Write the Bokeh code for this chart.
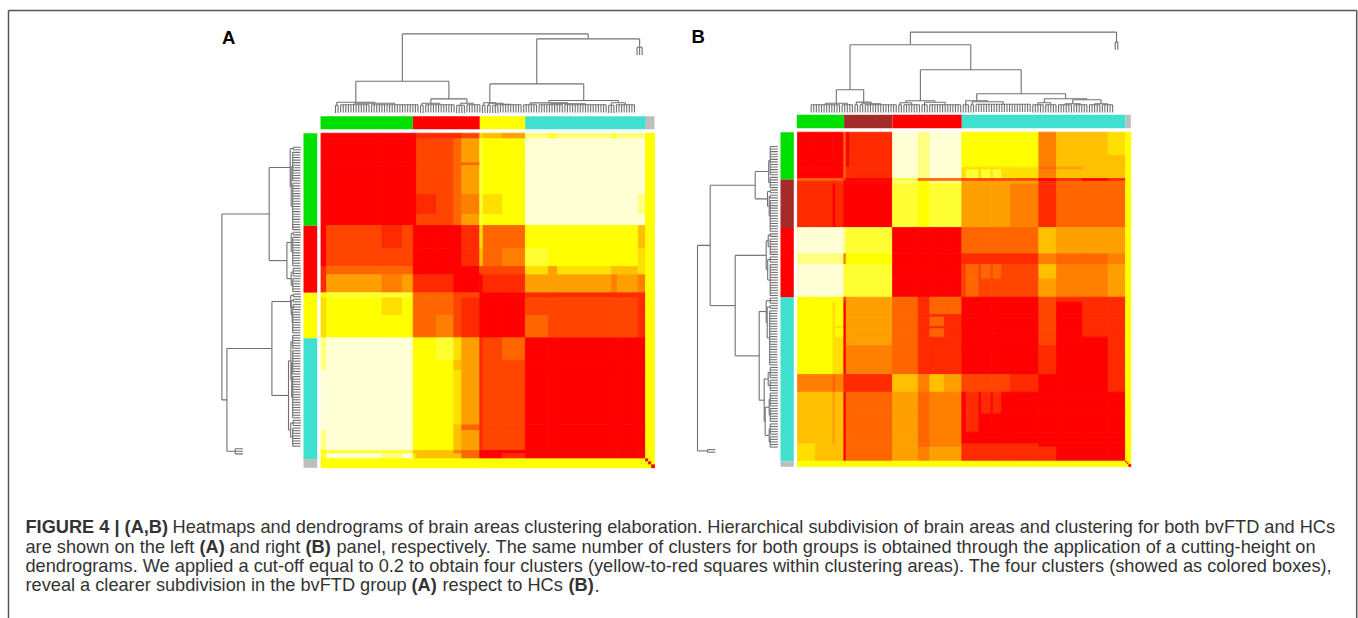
from bokeh.plotting import figure
from bokeh.models import Range1d
from bokeh.core.properties import value
from bokeh.embed import file_html
from bokeh.resources import INLINE
import numpy as np

# ---------- data ----------
LEVELS = {"0": "#FF0000", "1": "#FF2A00", "2": "#FF4500", "3": "#FF6600", "4": "#FF8000", "5": "#FFA000",
          "6": "#FFC000", "7": "#FFDF00", "8": "#FFFF00", "9": "#FFFF33", "a": "#FFFF80", "b": "#FFFFD5"}

A_cols = [17,166,62,32,10,60,52,24,54,10,58,69,69,27,163,17,63,22,9,9,9]
A_rows = [17,72,8,87,60,33,70,53,25,54,15,53,67,68,30,163,17,60,10,15,9,9,9]
A_matrix = [
 "000001112765a9a9aa888",
 "000002235988bbbbbb888",
 "000002233988bbbbbb888",
 "000002235988bbbbbb888",
 "000001234978bbbbba888",
 "000002235988bbbbbb888",
 "021200001733888886888",
 "022200001634988887888",
 "133300000222757667888",
 "154511100011555454888",
 "899933322000111111888",
 "787833321000222221888",
 "788833421000322221888",
 "abbb88975123000000888",
 "abbb88865122000000888",
 "bbbb88875122000000888",
 "bbbb88863122000000888",
 "abbb88865122000000888",
 "899966643000000000888",
 "9bab76663001000000888",
 "888888888888888888088",
 "888888888888888888808",
 "888888888888888888880",
]
A_groups = [33, 24, 16, 44, 3]
A_bar_sizes = [277, 201, 136, 362, 26]
A_bar_colors = ["#00E000", "#FF0000", "#FFFF00", "#40E0D0", "#BEBEBE"]
A_tree = (79.3,
          (32, (11, (8, 2), (10, (8.5, 12), (8.5, 19))),
               (14.3, (10, (8, 2), (8.5, 12)), (10, (8, 4), (8.5, 6)))),
          (74.3,
           (29.3, (10.5, (8, 2), (10, (8, 2), (9, (8, 3), (8.5, 9)))),
                  (12.7, (10.3, (8.5, 6), (9.5, (8.5, 10), (8.5, 17))), (10.5, (8, 3), (8.5, 8)))),
           (66, 3)))

B_cols = [54,52,8,25,7,10,129,77,35,44,52,13,38,8,29,6,25,27,85,53,78,77,52,5,5,6]
B_rows = [70,35,8,26,8,8,131,79,32,43,55,15,37,8,28,7,25,25,87,53,65,55,35,10,42,5,5,6]
B_matrix = [
 "0000301babb888888884667"+"888",
 "0000301babb888888884666"+"888",
 "0000311babb777777773566"+"888",
 "0000311babb797979774666"+"888",
 "33331009333222222220101"+"888",
 "1111000a8aa555555551333"+"888",
 "11010009899555555541333"+"888",
 "bbbba990000333333336555"+"888",
 "aaaa4880000111111114334"+"888",
 "bbbb9990000232323226445"+"888",
 "bbbb9990000232222225445"+"888",
 "88881553133000000002111"+"888",
 "88780553133000000002011"+"888",
 "88780553111000000002011"+"888",
 "88780553131000000002011"+"888",
 "88770553111000000002011"+"888",
 "88780553131000000002011"+"888",
 "88770553111000000002001"+"888",
 "88770443111000000001001"+"888",
 "44341116465222222210001"+"888",
 "66560335344010101000000"+"888",
 "66560335344010000000000"+"888",
 "66560335344000000000000"+"888",
 "76660335344111111110000"+"888",
 "76660335455111111111000"+"888",
 "88888888888888888888888"+"088",
 "88888888888888888888888"+"808",
 "88888888888888888888888"+"880",
]
B_groups = [17, 17, 25, 59, 2]
B_bar_sizes = [142, 145, 208, 491, 16]
B_bar_colors = ["#00E000", "#A52A2A", "#FF0000", "#40E0D0", "#BEBEBE"]
B_tree = (80.7,
          (68,
           (23, (9.5, (8, 12), (8, 5)), (10.7, (8, 2), (9, (8, 2), (8, 13)))),
           (43,
            (12, (10, (8, 2), (8, 7)), (10.5, (8, 3), (8, 13))),
            (19, (12, (8, 3), (11, (8, 2), (8.5, 22))),
                 (14, (10, (8, 5), (8, 5)), (13, (9, (8, 6), (8, 6)), (9, (8, 5), (8, 5))))))),
          (70.7, 2))

PANEL_LABELS = ["A", "B"]
CAPTION = [
 [("FIGURE 4 | (A,B)", 25, True), ("Heatmaps and dendrograms of brain areas clustering elaboration. Hierarchical subdivision of brain areas and clustering for both bvFTD and HCs", 172, False)],
 [("are shown on the left", 25, False), ("(A)", 199, True), ("and right", 229, False), ("(B)", 305, True), ("panel, respectively. The same number of clusters for both groups is obtained through the application of a cutting-height on", 336, False)],
 [("dendrograms. We applied a cut-off equal to 0.2 to obtain four clusters (yellow-to-red squares within clustering areas). The four clusters (showed as colored boxes),", 25, False)],
 [("reveal a clearer subdivision in the bvFTD group", 25, False), ("(A)", 411, True), ("respect to HCs", 442, False), ("(B)", 568, True), (".", 594, False)],
]

# ---------- layout (page pixels) ----------
LINE = "#707070"
W, H = 1358, 618
p = figure(width=W, height=H, x_range=Range1d(0, W), y_range=Range1d(H, 0),
           toolbar_location=None, output_backend="svg", min_border=0,
           outline_line_color=None, background_fill_color="white", border_fill_color="white")
p.axis.visible = False
p.grid.visible = False


def edges(sizes, a, b):
    c = np.concatenate([[0], np.cumsum(sizes)], dtype=float)
    return a + c / c[-1] * (b - a)


def heat(cols, rows, matrix, x0, x1, y0, y1):
    assert len(matrix) == len(rows)
    xe, ye = edges(cols, x0, x1), edges(rows, y0, y1)
    L, R, T, B, C = [], [], [], [], []
    for i, row in enumerate(matrix):
        assert len(row) == len(cols), (i, len(row), len(cols))
        for j, ch in enumerate(row):
            L.append(xe[j]); R.append(xe[j + 1]); T.append(ye[i]); B.append(ye[i + 1]); C.append(LEVELS[ch])
    p.quad(left=L, right=R, top=T, bottom=B, fill_color=C, line_color=C, line_width=0.8)


def bars(sizes, colors, x0, x1, y0, y1, horizontal):
    e = edges(sizes, x0, x1) if horizontal else edges(sizes, y0, y1)
    if horizontal:
        p.quad(left=e[:-1], right=e[1:], top=y0, bottom=y1, fill_color=colors, line_color=None)
    else:
        p.quad(left=x0, right=x1, top=e[:-1], bottom=e[1:], fill_color=colors, line_color=None)


HANG = 7.7


def layout(node, state, segs):
    """Return (position along leaves, height); append segments as (pos0, h0, pos1, h1)."""
    h = node[0]
    if len(node) == 2:
        n = node[1]
        pos = [state["next"] + i * state["step"] for i in range(n)]
        state["next"] += n * state["step"]
        for q in pos:
            segs.append((q, h - HANG, q, h))
        segs.append((pos[0], h, pos[-1], h))
        return (pos[0] + pos[-1]) / 2, h
    kids = [layout(k, state, segs) for k in node[1:]]
    for q, kh in kids:
        segs.append((q, kh, q, h))
    segs.append((kids[0][0], h, kids[-1][0], h))
    return (kids[0][0] + kids[-1][0]) / 2, h


def dendro(tree, n, start, end, base, top):
    segs = []
    layout(tree, {"next": start, "step": (end - start) / (n - 1)}, segs)
    a = np.array(segs)
    if top:
        p.segment(a[:, 0], base - a[:, 1], a[:, 2], base - a[:, 3], line_color=LINE, line_width=1.1)
    else:
        p.segment(base - a[:, 1], a[:, 0], base - a[:, 3], a[:, 2], line_color=LINE, line_width=1.1)


# frame: top, left and right edges only; the bottom edge lies outside the picture
p.segment([8, 8, 1356.2], [10, 10, 10], [1356.2, 8, 1356.2], [10, 618, 618],
          line_color="#555555", line_width=1.5)

# panel A
heat(A_cols, A_rows, A_matrix, 320.5, 654, 132.7, 467.3)
bars(A_bar_sizes, A_bar_colors, 320, 654, 115.7, 128.7, True)
bars(A_bar_sizes, A_bar_colors, 303, 316.7, 132.7, 467.3, False)
dendro(A_tree, sum(A_groups), 335, 641.7, 112.7, True)
dendro(A_tree, sum(A_groups), 146.7, 453.4, 300.7, False)

# panel B
heat(B_cols, B_rows, B_matrix, 797, 1130.3, 131.7, 466)
bars(B_bar_sizes, B_bar_colors, 796.3, 1130.3, 114.3, 127.7, True)
bars(B_bar_sizes, B_bar_colors, 780, 793.3, 131.7, 466.3, False)
dendro(B_tree, sum(B_groups), 810.7, 1117.3, 112.3, True)
dendro(B_tree, sum(B_groups), 146, 451.7, 777.7, False)

# labels
p.text(x=[221.5, 691], y=[36.5, 35.5], text=PANEL_LABELS, text_font=value("Liberation Sans"), text_font_style="bold",
       text_font_size="18.5px", text_color="black", text_align="left", text_baseline="alphabetic")

# caption
BASE = [526, 546, 565.5, 584.5]
for line, yb in zip(CAPTION, BASE):
    for txt, x, bold in line:
        p.text(x=[x], y=[yb], text=[txt], text_font=value("Liberation Sans"),
               text_font_style="bold" if bold else "normal", text_font_size="18.2px",
               text_color="#333333", text_align="left", text_baseline="alphabetic")

open("out.html", "w").write(file_html(p, INLINE))
